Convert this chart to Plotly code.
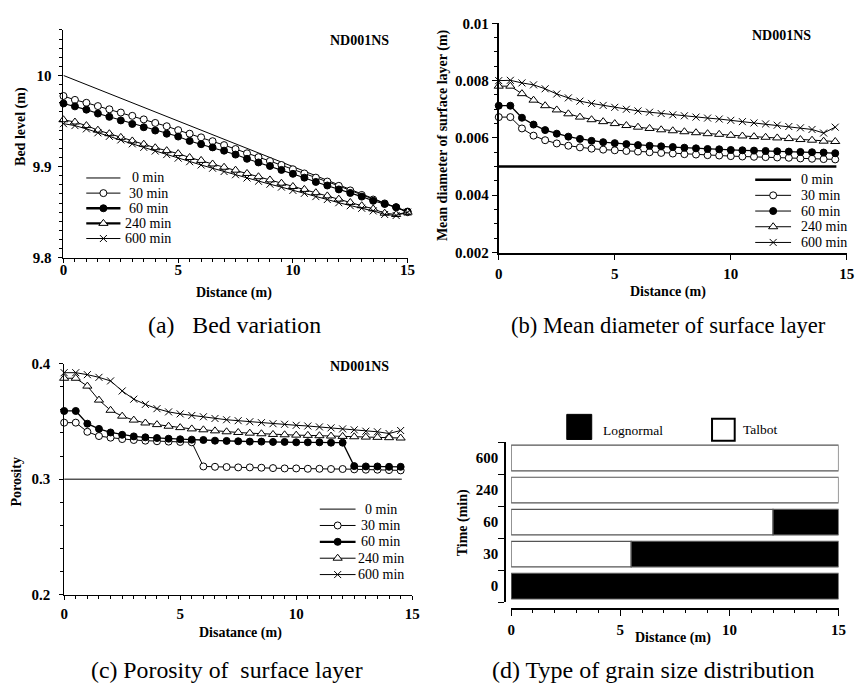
import plotly.graph_objects as go

# ---------------- data ----------------
dist_a = [0, 0.5, 1, 1.5, 2, 2.5, 3, 3.5, 4, 4.5, 5, 5.5, 6, 6.5, 7, 7.5, 8, 8.5, 9, 9.5,
          10, 10.5, 11, 11.5, 12, 12.5, 13, 13.5, 14, 14.5, 15]
dist_bc = [0, 0.5, 1, 1.5, 2, 2.5, 3, 3.5, 4, 4.5, 5, 5.5, 6, 6.5, 7, 7.5, 8, 8.5, 9, 9.5,
           10, 10.5, 11, 11.5, 12, 12.5, 13, 13.5, 14, 14.5]
series_names = ["0 min", "30 min", "60 min", "240 min", "600 min"]

# (a) bed level (m)
bed_0_x = [0, 15]
bed_0 = [10.0, 9.85]
bed_30 = [9.9775, 9.9732, 9.9700, 9.9664, 9.9629, 9.9593, 9.9557, 9.9518, 9.9479, 9.9443,
          9.9400, 9.9361, 9.9321, 9.9279, 9.9236, 9.9193, 9.9146, 9.9104, 9.9061, 9.9018,
          9.8971, 9.8925, 9.8879, 9.8836, 9.8789, 9.8739, 9.8689, 9.8639, 9.8596, 9.8555, 9.8500]
bed_60 = [9.9693, 9.9661, 9.9625, 9.9582, 9.9546, 9.9507, 9.9468, 9.9432, 9.9396, 9.9361,
          9.9330, 9.9282, 9.9246, 9.9211, 9.9175, 9.9132, 9.9086, 9.9046, 9.9007, 9.8964,
          9.8921, 9.8879, 9.8832, 9.8793, 9.8750, 9.8711, 9.8671, 9.8625, 9.8590, 9.8554, 9.8507]
bed_240 = [9.9514, 9.9489, 9.9450, 9.9400, 9.9361, 9.9321, 9.9282, 9.9246, 9.9207, 9.9175,
           9.9143, 9.9100, 9.9068, 9.9029, 9.8993, 9.8961, 9.8925, 9.8889, 9.8854, 9.8818,
           9.8782, 9.8750, 9.8714, 9.8679, 9.8643, 9.8607, 9.8571, 9.8536, 9.8489, 9.8475, 9.8500]
bed_600 = [9.9471, 9.9450, 9.9414, 9.9371, 9.9332, 9.9293, 9.9250, 9.9211, 9.9171, 9.9132,
           9.9093, 9.9054, 9.9018, 9.8982, 9.8946, 9.8911, 9.8875, 9.8839, 9.8807, 9.8775,
           9.8739, 9.8707, 9.8671, 9.8639, 9.8604, 9.8571, 9.8543, 9.8514, 9.8475, 9.8464, 9.8500]

# (b) mean diameter of surface layer (m)
dm_0_x = [0, 14.55]
dm_0 = [0.005, 0.005]
dm_30 = [0.006727, 0.006727, 0.006330, 0.006080, 0.005920, 0.005807, 0.005727, 0.005670,
         0.005625, 0.005591, 0.005568, 0.005545, 0.005523, 0.005500, 0.005477, 0.005455,
         0.005432, 0.005420, 0.005398, 0.005386, 0.005364, 0.005352, 0.005341, 0.005330,
         0.005318, 0.005307, 0.005284, 0.005273, 0.005261, 0.005250]
dm_60 = [0.007125, 0.007125, 0.006705, 0.006466, 0.006273, 0.006148, 0.006045, 0.005966,
         0.005898, 0.005852, 0.005818, 0.005784, 0.005750, 0.005727, 0.005705, 0.005682,
         0.005659, 0.005636, 0.005614, 0.005602, 0.005580, 0.005568, 0.005557, 0.005545,
         0.005534, 0.005523, 0.005511, 0.005500, 0.005489, 0.005466]
dm_240 = [0.007807, 0.007807, 0.007545, 0.007318, 0.007125, 0.006977, 0.006841, 0.006727,
          0.006636, 0.006568, 0.006500, 0.006432, 0.006375, 0.006330, 0.006284, 0.006250,
          0.006216, 0.006182, 0.006148, 0.006125, 0.006091, 0.006068, 0.006045, 0.006023,
          0.006000, 0.005977, 0.005943, 0.005920, 0.005886, 0.005875]
dm_600 = [0.008000, 0.008011, 0.007920, 0.007852, 0.007716, 0.007534, 0.007398, 0.007284,
          0.007205, 0.007136, 0.007068, 0.007000, 0.006943, 0.006898, 0.006852, 0.006807,
          0.006773, 0.006727, 0.006693, 0.006659, 0.006614, 0.006568, 0.006523, 0.006489,
          0.006443, 0.006398, 0.006352, 0.006295, 0.006170, 0.006375]

# (c) porosity of surface layer
por_0_x = [0, 14.55]
por_0 = [0.3, 0.3]
por_30 = [0.3489, 0.3489, 0.3410, 0.3373, 0.3359, 0.3347, 0.3339, 0.3333, 0.3328, 0.3325,
          0.3322, 0.3319, 0.3110, 0.3107, 0.3105, 0.3102, 0.3102, 0.3099, 0.3096, 0.3093,
          0.3093, 0.3090, 0.3090, 0.3088, 0.3088, 0.3085, 0.3082, 0.3082, 0.3079, 0.3076]
por_60 = [0.3590, 0.3590, 0.3480, 0.3435, 0.3404, 0.3384, 0.3370, 0.3362, 0.3356, 0.3350,
          0.3345, 0.3342, 0.3339, 0.3333, 0.3331, 0.3328, 0.3325, 0.3325, 0.3322, 0.3322,
          0.3319, 0.3319, 0.3319, 0.3316, 0.3316, 0.3113, 0.3110, 0.3110, 0.3107, 0.3107]
por_240 = [0.3873, 0.3873, 0.3805, 0.3684, 0.3596, 0.3545, 0.3511, 0.3486, 0.3472, 0.3458,
           0.3446, 0.3435, 0.3427, 0.3418, 0.3410, 0.3404, 0.3398, 0.3393, 0.3387, 0.3384,
           0.3381, 0.3379, 0.3376, 0.3373, 0.3370, 0.3367, 0.3364, 0.3362, 0.3359, 0.3356]
por_600 = [0.3921, 0.3921, 0.3904, 0.3881, 0.3850, 0.3763, 0.3692, 0.3647, 0.3610, 0.3582,
           0.3565, 0.3551, 0.3540, 0.3525, 0.3514, 0.3506, 0.3497, 0.3489, 0.3480, 0.3475,
           0.3466, 0.3460, 0.3452, 0.3444, 0.3435, 0.3427, 0.3415, 0.3410, 0.3395, 0.3421]

# (d) type of grain size distribution
time_labels = ["0", "30", "60", "240", "600"]
talbot_end = [0, 5.5, 12, 15, 15]      # Talbot from 0 to this distance, Lognormal beyond
flume_length = 15

# ---------------- helpers ----------------
W, H = 864, 691
SERIF = "Liberation Serif"


def px(p):
    return p / W


def py(p):
    return 1 - p / H


styles = {
    "0 min": dict(mode="lines", marker=None),
    "30 min": dict(mode="lines+markers",
                   marker=dict(symbol="circle", size=7, color="white",
                               line=dict(color="black", width=1))),
    "60 min": dict(mode="lines+markers",
                   marker=dict(symbol="circle", size=7, color="black",
                               line=dict(color="black", width=1))),
    "240 min": dict(mode="lines+markers",
                    marker=dict(symbol="triangle-up", size=8, color="white",
                                line=dict(color="black", width=1))),
    "600 min": dict(mode="lines+markers",
                    marker=dict(symbol="x-thin", size=7, color="black",
                                line=dict(color="black", width=1))),
}

fig = go.Figure()
annotations = []


def text(x, y, s, size=14, bold=True, angle=0, xanchor="center", xref="paper", yref="paper"):
    annotations.append(dict(x=px(x) if xref == "paper" else x,
                            y=py(y) if yref == "paper" else y,
                            xref=xref, yref=yref, text=s,
                            showarrow=False, textangle=angle, xanchor=xanchor,
                            yanchor="middle",
                            font=dict(family=SERIF, size=size, color="black",
                                      weight="bold" if bold else "normal")))


def add_panel(xa, ya, xs, ys, data_widths):
    for name, x, y, dw in zip(series_names, xs, ys, data_widths):
        st = styles[name]
        kw = dict(marker=st["marker"]) if st["marker"] else {}
        fig.add_trace(go.Scatter(x=x, y=y, mode=st["mode"], **kw,
                                 line=dict(color="black", width=dw),
                                 xaxis=xa, yaxis=ya, showlegend=False,
                                 cliponaxis=False, hoverinfo="skip"))


def add_key(n, key_px, rows_px, key_widths, text_x, text_anchor):
    """Legend drawn on its own hidden axis pair: one row per series."""
    xa, ya = "x%d" % n, "y%d" % n
    half = (rows_px[1] - rows_px[0]) / (2 * (len(series_names) - 1))
    fig.update_layout(**{
        "xaxis%d" % n: dict(domain=[px(key_px[0]), px(key_px[1])], range=[0, 1],
                            visible=False, fixedrange=True, anchor=ya),
        "yaxis%d" % n: dict(domain=[py(rows_px[1] + half), py(rows_px[0] - half)],
                            range=[len(series_names) - 0.5, -0.5],
                            visible=False, fixedrange=True, anchor=xa),
    })
    for row, (name, lw) in enumerate(zip(series_names, key_widths)):
        st = styles[name]
        fig.add_trace(go.Scatter(x=[0, 1], y=[row, row], mode="lines",
                                 line=dict(color="black", width=lw),
                                 xaxis=xa, yaxis=ya, showlegend=False,
                                 cliponaxis=False, hoverinfo="skip"))
        if st["marker"]:
            fig.add_trace(go.Scatter(x=[0.5], y=[row], mode="markers", marker=st["marker"],
                                     xaxis=xa, yaxis=ya, showlegend=False,
                                     cliponaxis=False, hoverinfo="skip"))
        text(text_x, row, name, size=14, bold=False, xanchor=text_anchor,
             xref="paper", yref=ya)


add_panel("x", "y",
          [bed_0_x, dist_a, dist_a, dist_a, dist_a],
          [bed_0, bed_30, bed_60, bed_240, bed_600],
          [1, 1, 1.1, 1, 1])
add_panel("x2", "y2",
          [dm_0_x, dist_bc, dist_bc, dist_bc, dist_bc],
          [dm_0, dm_30, dm_60, dm_240, dm_600],
          [2.5, 1, 1.3, 1, 1])
add_panel("x3", "y3",
          [por_0_x, dist_bc, dist_bc, dist_bc, dist_bc],
          [por_0, por_30, por_60, por_240, por_600],
          [1, 1, 1.3, 1, 1])

# (d) horizontal bars
tal_y = [t for t, e in zip(time_labels, talbot_end) if e > 0]
tal_len = [e for e in talbot_end if e > 0]
log_y = [t for t, e in zip(time_labels, talbot_end) if e < flume_length]
log_base = [e for e in talbot_end if e < flume_length]
log_len = [flume_length - e for e in talbot_end if e < flume_length]

fig.add_trace(go.Bar(y=tal_y, x=tal_len, base=[0] * len(tal_len), orientation="h",
                     width=0.8, marker=dict(color="white", line=dict(color="#555555", width=1.2)),
                     xaxis="x4", yaxis="y4", showlegend=False, hoverinfo="skip"))
fig.add_trace(go.Bar(y=log_y, x=log_len, base=log_base, orientation="h",
                     width=0.8, marker=dict(color="black", line=dict(color="#555555", width=1.2)),
                     xaxis="x4", yaxis="y4", showlegend=False, hoverinfo="skip"))

# ---------------- axes ----------------
tickfont = dict(family=SERIF, size=15, color="black", weight="bold")
base_axis = dict(showline=True, linecolor="black", linewidth=1, ticks="outside",
                 tickcolor="black", ticklen=4, tickwidth=1, showgrid=False, zeroline=False,
                 tickfont=tickfont, fixedrange=True)


def ax(**kw):
    d = dict(base_axis)
    d.update(kw)
    return d


minor_x = dict(ticks="outside", tickmode="linear", tick0=0, dtick=0.5, ticklen=3,
               tickcolor="black", tickwidth=1)

fig.update_layout(
    xaxis=ax(domain=[px(60.3), px(409.3)], anchor="y", range=[0, 15],
             tickvals=[0, 5, 10, 15], minor=minor_x, ticklabelstandoff=-6),
    yaxis=ax(domain=[py(255.7), py(22.4)], anchor="x", range=[9.8, 10.05],
             tickvals=[9.8, 9.9, 10.0], ticktext=["9.8", "9.9", "10"],
             minor=dict(ticks="outside", tickmode="linear", tick0=9.8, dtick=0.01, ticklen=3,
                        tickcolor="black", tickwidth=1), ticklabelstandoff=4),
    xaxis2=ax(domain=[px(501.7), px(854.7)], anchor="y2", range=[0, 15],
              tickvals=[0, 5, 10, 15], linewidth=2, ticklen=5, ticklabelstandoff=1),
    yaxis2=ax(domain=[py(250.3), py(15.7)], anchor="x2", range=[0.002, 0.01],
              tickvals=[0.002, 0.004, 0.006, 0.008, 0.01],
              ticktext=["0.002", "0.004", "0.006", "0.008", "0.01"], linewidth=2, ticklen=5,
              minor=dict(ticks="outside", tickmode="linear", tick0=0.002, dtick=0.0005,
                         ticklen=3, tickcolor="black", tickwidth=1), ticklabelstandoff=0),
    xaxis3=ax(domain=[px(61), px(414)], anchor="y3", range=[0, 15],
              tickvals=[0, 5, 10, 15], minor=minor_x, ticklabelstandoff=1),
    yaxis3=ax(domain=[py(600.7), py(364)], anchor="x3", range=[0.2, 0.4],
              tickvals=[0.2, 0.3, 0.4], ticktext=["0.2", "0.3", "0.4"],
              minor=dict(ticks="outside", tickmode="linear", tick0=0.2, dtick=0.02, ticklen=3,
                         tickcolor="black", tickwidth=1), ticklabelstandoff=6),
    xaxis4=ax(domain=[px(514.3), px(846.3)], anchor="free", position=py(615), range=[0, 15],
              tickvals=[0, 5, 10, 15], ticklen=6, linewidth=1.5, ticklabelstandoff=1,
              minor=dict(ticks="outside", tickmode="linear", tick0=0, dtick=1, ticklen=3,
                         tickcolor="black", tickwidth=1)),
    yaxis4=ax(domain=[py(608.3), py(444.3)], anchor="free", position=px(508),
              type="category", categoryorder="array", categoryarray=time_labels,
              range=[-0.5, 4.5], tickson="boundaries", ticklen=6, linewidth=1.5,
              ticklabelstandoff=3),
    barmode="overlay",
    showlegend=False,
)

# ---------------- keys (legends) ----------------
add_key(5, (83.3, 118.3), (174, 236), [1, 1, 2.4, 2.4, 1], 146.5, "center")
add_key(6, (761.7, 798.3), (175.7, 240), [2.5, 1, 1, 1, 1], 806, "left")
add_key(7, (320, 356.7), (513, 580), [1, 1, 2.4, 1, 1], 382, "center")

# (d) key: drawn squares + labels
fig.add_shape(type="rect", xref="paper", yref="paper", x0=px(570.7), x1=px(596),
              y0=py(441.7), y1=py(416), fillcolor="black", line=dict(color="black", width=1))
fig.add_shape(type="rect", xref="paper", yref="paper", x0=px(718), x1=px(741),
              y0=py(443), y1=py(420.5), fillcolor="white", line=dict(color="black", width=2))

# ---------------- text ----------------
text(605, 433, "Lognormal", size=13.5, bold=False, xanchor="left")
text(747, 432, "Talbot", size=13.5, bold=False, xanchor="left")

text(360, 33, "ND001NS")
text(788, 28, "ND001NS")
text(360, 367, "ND001NS")

text(17.3, 121.7, "Bed level (m)", angle=-90)
text(233, 291.7, "Distance (m)")
text(445.3, 130, "Mean diameter of surface layer (m)", angle=-90)
text(673, 291, "Distance (m)")
text(13, 485, "Porosity", angle=-90)
text(240, 640, "Disatance (m)")
text(465.3, 526.7, "Time (min)", angle=-90)
text(678, 645, "Distance (m)")

text(233.5, 325, "(a)\u00a0\u00a0\u00a0Bed variation", size=23.8, bold=False)
text(674, 325, "(b) Mean diameter of surface layer", size=22.6, bold=False)
text(226, 678, "(c) Porosity of\u00a0\u00a0surface layer", size=23.8, bold=False)
text(658, 678, "(d) Type of grain size distribution", size=24, bold=False)

fig.update_layout(annotations=annotations, width=W, height=H,
                  margin=dict(l=0, r=0, t=0, b=0, pad=0),
                  paper_bgcolor="white", plot_bgcolor="white")

fig.write_html("out.html")
